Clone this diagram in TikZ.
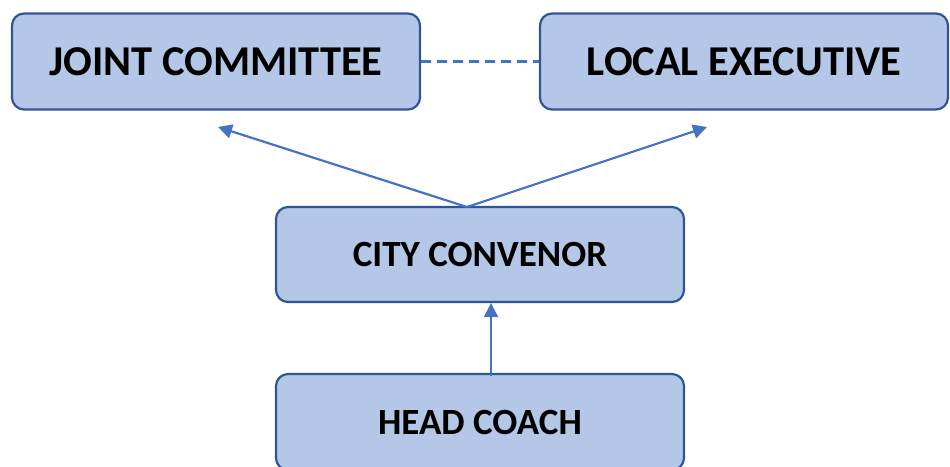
\documentclass[tikz,border=0pt]{standalone}
\usepackage{fontspec}
\setmainfont{Carlito}
\usetikzlibrary{arrows.meta}
\definecolor{boxfill}{HTML}{B4C7E7}
\definecolor{boxline}{HTML}{2F5597}
\definecolor{arrowblue}{HTML}{4472C4}
\begin{document}
\begin{tikzpicture}[x=1pt,y=-1pt,
  orgbox/.style={draw=boxline, fill=boxfill, line width=2.2pt, rounded corners=12pt,
    minimum width=408pt, minimum height=96pt, inner sep=0pt, font=\bfseries},
  bigtext/.style={font=\fontsize{42.5}{48}\selectfont\bfseries},
  smalltext/.style={font=\fontsize{37}{42}\selectfont\bfseries},
  conn/.style={draw=arrowblue, line width=2.2pt, -{Triangle[length=14pt,width=14pt]}},
  dashconn/.style={draw=arrowblue, line width=2.4pt, dash pattern=on 10pt off 6pt}]
\useasboundingbox (0,0) rectangle (950,466);
\clip (0,0) rectangle (950,466);
\node[orgbox, bigtext] (joint) at (216,61.5) {JOINT COMMITTEE};
\node[orgbox, bigtext] (local) at (744,61.5) {LOCAL EXECUTIVE};
\node[orgbox, smalltext, minimum height=95pt] (city) at (480,254.5) {CITY CONVENOR};
\node[orgbox, smalltext] (head) at (480,422) {HEAD COACH};
\coordinate (ct) at (467,207);
\coordinate (tl) at (218,127);
\coordinate (tr) at (707,127);
\draw[dashconn] (joint.east) -- (local.west);
\draw[conn] (ct) -- (tl);
\draw[conn] (ct) -- (tr);
\draw[conn] ([xshift=11pt,yshift=-3pt]head.north) -- ([xshift=11pt]city.south);
\end{tikzpicture}
\end{document}
